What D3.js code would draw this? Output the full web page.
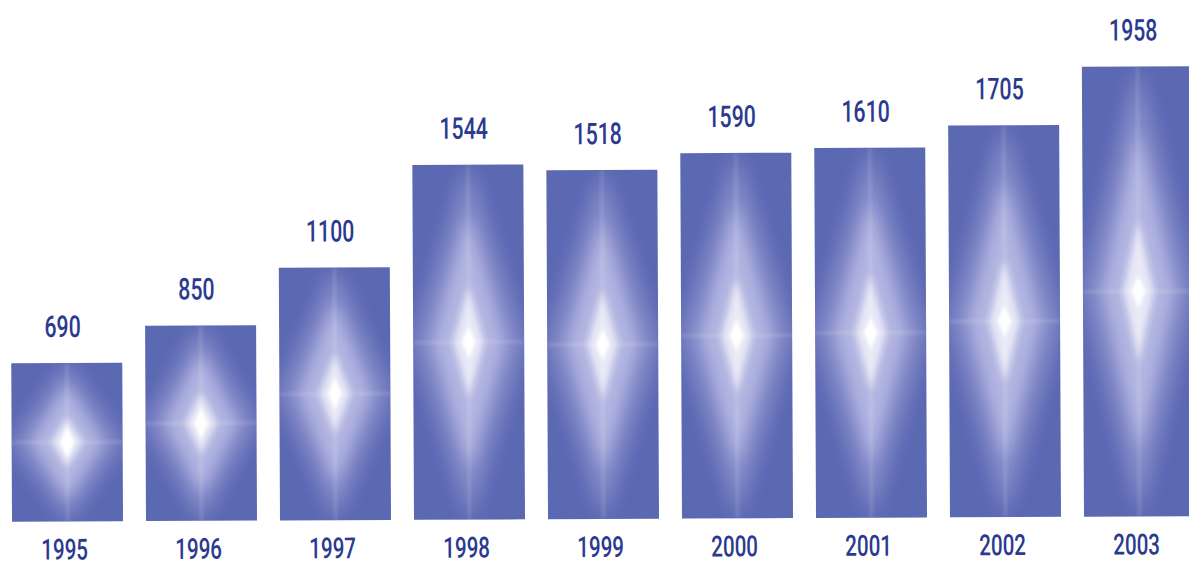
<!DOCTYPE html>
<html>
<head>
<meta charset="utf-8">
<script src="https://cdn.jsdelivr.net/npm/d3@7"></script>
<style>
  body { margin: 0; background: #fff; }
  text { font-family: Roboto, "Liberation Sans", sans-serif; font-weight: 500; }
</style>
</head>
<body>
<div class="chart"></div>
<script>
const years = ['1995','1996','1997','1998','1999','2000','2001','2002','2003'];
const values = [690, 850, 1100, 1544, 1518, 1590, 1610, 1705, 1958];

const data = years.map((y, i) => ({year: y, value: values[i]}));

const width = 1189, height = 567;
const baseline = 519;

const svg = d3.select('.chart').append('svg')
    .attr('width', width)
    .attr('height', height);

const defs = svg.append('defs');

// blur filters for the glow
[[10,'blurBig'],[7,'blurMid'],[3.5,'blurSmall'],[1.5,'blurLine']].forEach(([s, id]) => {
    defs.append('filter')
        .attr('id', id)
        .attr('x', '-50%').attr('y', '-50%')
        .attr('width', '200%').attr('height', '200%')
        .append('feGaussianBlur')
        .attr('stdDeviation', s);
});

const x = d3.scaleBand()
    .domain(years)
    .range([12, 12 + 9*134 - 23])
    .paddingInner(23/134)
    .paddingOuter(0);

const y = d3.scaleLinear()
    .domain([0, 1958])
    .range([baseline, baseline - 450]);

// scan is slightly tilted
const g = svg.append('g')
    .attr('transform', `rotate(-0.27, ${width/2}, ${baseline})`);

const diamond = (cx, cy, hw, hh) =>
    `M${cx},${cy-hh}L${cx+hw},${cy}L${cx},${cy+hh}L${cx-hw},${cy}Z`;

const bars = g.selectAll('.bar')
    .data(data)
    .enter()
    .append('g')
    .attr('class', 'bar');

bars.each(function(d, i) {
    const bx = x(d.year), bw = x.bandwidth();
    const by = y(d.value), bh = baseline - by;
    const cx = bx + bw/2, cy = by + bh/2;
    const sel = d3.select(this);

    defs.append('clipPath')
        .attr('id', 'clip' + i)
        .append('rect')
        .attr('x', bx).attr('y', by)
        .attr('width', bw).attr('height', bh);

    sel.append('rect')
        .attr('x', bx).attr('y', by)
        .attr('width', bw).attr('height', bh)
        .attr('fill', '#5b68b2');

    const glow = sel.append('g').attr('clip-path', `url(#clip${i})`);

    glow.append('path')
        .attr('d', diamond(cx, cy, bw*0.5, bh*0.5))
        .attr('fill', '#b0b0e2')
        .attr('opacity', 0.55)
        .attr('filter', 'url(#blurBig)');

    glow.append('path')
        .attr('d', diamond(cx, cy, bw*0.32, bh*0.36))
        .attr('fill', '#dcdcf6')
        .attr('opacity', 0.5)
        .attr('filter', 'url(#blurMid)');

    glow.append('rect')
        .attr('x', bx).attr('y', cy - 2)
        .attr('width', bw).attr('height', 4)
        .attr('fill', '#ffffff')
        .attr('opacity', 0.12)
        .attr('filter', 'url(#blurLine)');

    glow.append('rect')
        .attr('x', cx - 2).attr('y', by)
        .attr('width', 4).attr('height', bh)
        .attr('fill', '#ffffff')
        .attr('opacity', 0.12)
        .attr('filter', 'url(#blurLine)');

    glow.append('path')
        .attr('d', diamond(cx, cy, bw*0.14, bh*0.16))
        .attr('fill', '#ffffff')
        .attr('opacity', 0.7)
        .attr('filter', 'url(#blurSmall)');

    glow.append('path')
        .attr('d', diamond(cx, cy, 7, 16))
        .attr('fill', '#ffffff')
        .attr('filter', 'url(#blurLine)');
});

// value labels
g.selectAll('.value')
    .data(data)
    .enter()
    .append('text')
    .attr('class', 'value')
    .attr('transform', d => `translate(${x(d.year) + x.bandwidth()/2 - 4}, ${y(d.value) - 26}) scale(0.71,1)`)
    .attr('text-anchor', 'middle')
    .attr('font-size', '30px')
    .attr('fill', '#2b3a8f')
    .text(d => d.value);

// year labels
g.selectAll('.year')
    .data(data)
    .enter()
    .append('text')
    .attr('class', 'year')
    .attr('transform', d => `translate(${x(d.year) + x.bandwidth()/2 - 3}, ${baseline + 38}) scale(0.71,1)`)
    .attr('text-anchor', 'middle')
    .attr('font-size', '29px')
    .attr('fill', '#2b3a8f')
    .text(d => d.year);
</script>
</body>
</html>
